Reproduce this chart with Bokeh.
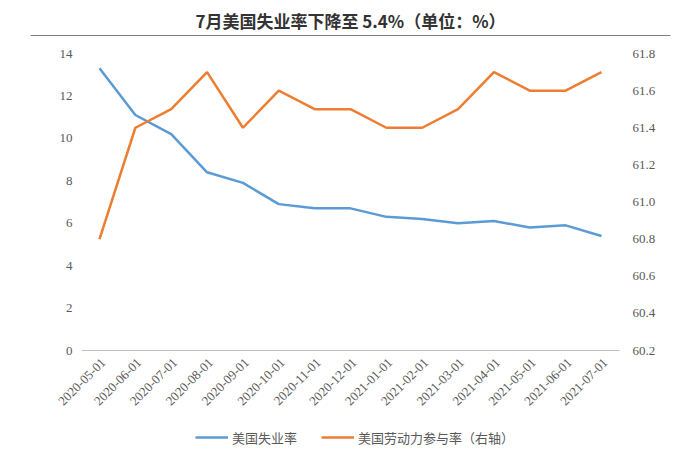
from bokeh.plotting import figure
from bokeh.models import (FactorRange, Range1d, LinearAxis, FixedTicker, Legend,
                          LegendItem)
from bokeh.core.properties import value
from bokeh.embed import file_html
from bokeh.resources import INLINE
import math

months = ["2020-05-01", "2020-06-01", "2020-07-01", "2020-08-01", "2020-09-01",
          "2020-10-01", "2020-11-01", "2020-12-01", "2021-01-01", "2021-02-01",
          "2021-03-01", "2021-04-01", "2021-05-01", "2021-06-01", "2021-07-01"]
unemployment = [13.3, 11.1, 10.2, 8.4, 7.9, 6.9, 6.7, 6.7, 6.3, 6.2, 6.0, 6.1, 5.8, 5.9, 5.4]
participation = [60.8, 61.4, 61.5, 61.7, 61.4, 61.6, 61.5, 61.5, 61.4, 61.4, 61.5, 61.7, 61.6, 61.6, 61.7]
left_ticks = [0, 2, 4, 6, 8, 10, 12, 14]
right_ticks = [60.2, 60.4, 60.6, 60.8, 61.0, 61.2, 61.4, 61.6, 61.8]

title_text = "7月美国失业率下降至 5.4%（单位：%）"
name1 = "美国失业率"
name2 = "美国劳动力参与率（右轴）"

BLUE = "#5B9BD5"
ORANGE = "#ED7D31"
TICK_FONT = "Liberation Serif"
CJK = "Noto Sans CJK SC"
LABEL_COLOR = "#595959"

n = len(months)
# frame spans the separator line's width (x 30..670) and from the separator
# (top) down to the legend row (bottom); value ranges are widened so that
# 0..14 / 60.2..61.8 keep their place between top tick and category baseline.
cat_pad = 1.4245
top_ext = 315 / 297
bot_ext = 99 / 297
p = figure(width=700, height=451,
           x_range=FactorRange(*months, range_padding=cat_pad, range_padding_units="absolute"),
           y_range=Range1d(-14 * bot_ext, 14 * top_ext),
           output_backend="svg", toolbar_location=None,
           min_border_left=30, min_border_right=30, min_border_top=35, min_border_bottom=2)
p.extra_y_ranges = {"right": Range1d(60.2 - 1.6 * bot_ext, 60.2 + 1.6 * top_ext)}
p.outline_line_color = None
p.grid.visible = False
p.xaxis.visible = False
p.yaxis.visible = False

p.title.text = title_text
p.title.align = "center"
p.title.text_font = CJK
p.title.text_font_size = "17px"
p.title.text_font_style = "bold"
p.title.text_color = "#333333"
p.title.offset = 0
p.title.standoff = 6

# separator under the title: an unlabeled axis on top of the frame
top = LinearAxis(ticker=FixedTicker(ticks=[]), axis_line_color="#808080",
                 major_tick_line_color=None, minor_tick_line_color=None,
                 major_label_text_font_size="0px")
p.add_layout(top, "above")

# category baseline at value 0 (from first to last category slot edge)
p.segment(x0=[0], y0=[0], x1=[n], y1=[0], line_color="#BFBFBF", line_width=1)

r1 = p.line(months, unemployment, line_color=BLUE, line_width=2.5)
r2 = p.line(months, participation, line_color=ORANGE, line_width=2.5, y_range_name="right")

# category labels, rotated
p.text(x=months, y=[0] * n, text=months, angle=math.pi / 4,
       text_align="right", text_baseline="middle", x_offset=4, y_offset=10,
       text_font=value(TICK_FONT), text_font_size="13px", text_color=LABEL_COLOR)

# left value labels
p.text(x=[-cat_pad] * len(left_ticks), y=left_ticks, text=[str(t) for t in left_ticks],
       text_align="right", text_baseline="middle", x_offset=42,
       text_font=value(TICK_FONT), text_font_size="13px", text_color=LABEL_COLOR)

# right value labels
p.text(x=[n + cat_pad] * len(right_ticks), y=right_ticks,
       text=[f"{t:.1f}" for t in right_ticks], y_range_name="right",
       text_align="left", text_baseline="middle", x_offset=-38,
       text_font=value(TICK_FONT), text_font_size="13px", text_color=LABEL_COLOR)

legend = Legend(items=[LegendItem(label=name1, renderers=[r1]),
                       LegendItem(label=name2, renderers=[r2])],
                orientation="horizontal", location=(165, 2),
                border_line_color=None, background_fill_alpha=0,
                label_text_font=CJK, label_text_font_size="13px",
                label_text_color=LABEL_COLOR, glyph_width=33, spacing=24,
                label_standoff=4, padding=0, margin=0)
p.add_layout(legend)

open("out.html", "w").write(file_html(p, INLINE))
